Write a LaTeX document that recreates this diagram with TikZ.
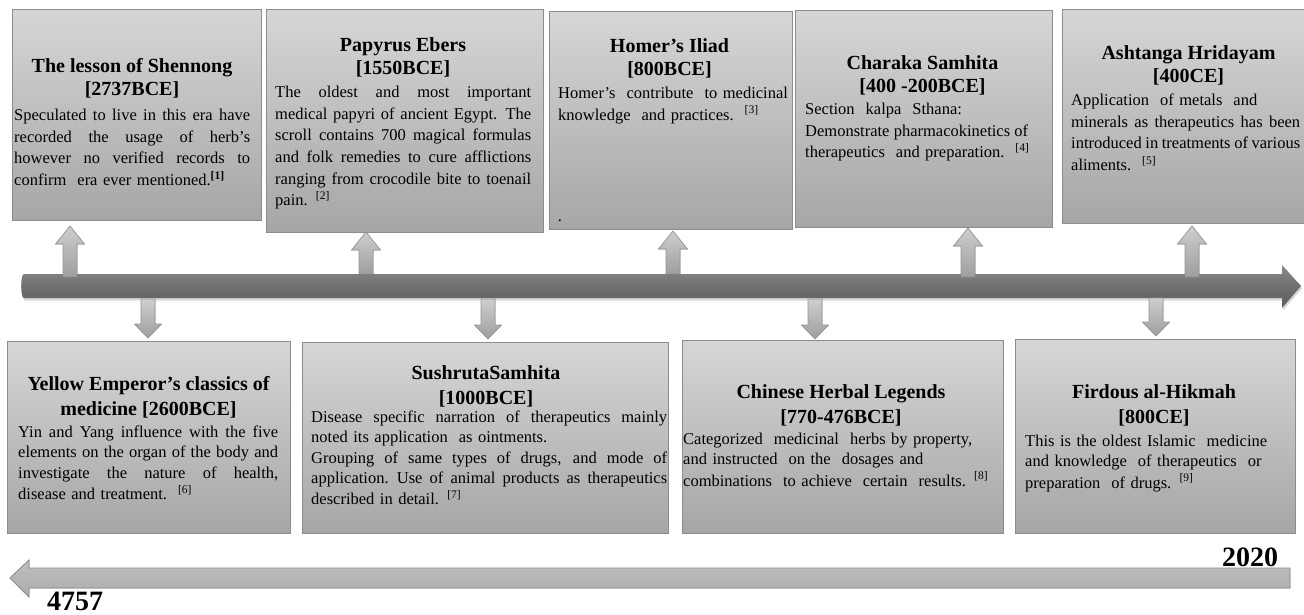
\documentclass[tikz,border=0pt]{standalone}
\usepackage{fontspec}
\setmainfont{Liberation Serif}
\usetikzlibrary{shadows}

\definecolor{boxtop}{RGB}{214,214,214}
\definecolor{boxbot}{RGB}{166,166,166}
\definecolor{boxline}{RGB}{140,140,140}
\definecolor{axistop}{RGB}{138,138,138}
\definecolor{axismid}{RGB}{112,112,112}
\definecolor{axisbot}{RGB}{92,92,92}
\definecolor{tabtop}{RGB}{206,206,206}
\definecolor{tabbot}{RGB}{158,158,158}
\definecolor{tabline}{RGB}{150,150,150}
\definecolor{spantop}{RGB}{190,190,190}
\definecolor{spanbot}{RGB}{172,172,172}

% width to which the justified lines of a description are set
\newlength\descw
\setlength\descw{200pt}
% one justified line of a description (word spaces may stretch or shrink),
% and one line left at its natural width
\newcommand\jline[1]{\makebox[\descw][s]{\spaceskip=0.25em plus 1em minus 0.08em\relax\strut#1}}
\newcommand\nline[1]{\strut#1}
\newcommand\refmark[1]{\textsuperscript{#1}}

% small block arrows joining the axis to the event boxes
\newcommand\evup[3]{% centre x, tip y, foot y
  \filldraw[tab] (#1-7,#3) -- (#1-7,#2+18) -- (#1-14.5,#2+18) -- (#1,#2)
    -- (#1+14.5,#2+18) -- (#1+7,#2+18) -- (#1+7,#3) -- cycle;}
\newcommand\evdown[3]{% centre x, top y, tip y
  \filldraw[tab] (#1-7,#2) -- (#1-7,#3-14) -- (#1-13.5,#3-14) -- (#1,#3)
    -- (#1+13.5,#3-14) -- (#1+7,#3-14) -- (#1+7,#2) -- cycle;}

\begin{document}
\begin{tikzpicture}[x=1pt,y=-1pt,
  evbox/.style={draw=boxline, line width=0.8pt, top color=boxtop, bottom color=boxbot,
    inner sep=0pt, drop shadow={opacity=0.25, shadow xshift=1.2pt, shadow yshift=-1.2pt}},
  ttl/.style={align=center, inner sep=0pt, font=\fontsize{20}{23.5}\selectfont\bfseries},
  ttlb/.style={ttl, font=\fontsize{20}{25}\selectfont\bfseries},
  desc/.style={anchor=north west, align=left, inner sep=0pt, text width=#1pt+40pt,
    execute at begin node={\setlength\descw{#1pt}},
    font=\fontsize{16.5}{21.7}\selectfont},
  descb/.style={desc=#1, font=\fontsize{16.5}{20.3}\selectfont},
  tab/.style={draw=tabline, line width=0.6pt, top color=tabtop, bottom color=tabbot},
  yearlbl/.style={inner sep=0pt, font=\fontsize{28}{30}\selectfont\bfseries}]

\useasboundingbox (0,0) rectangle (1304,614);
\fill[white] (0,0) rectangle (1304,614);

% ---- main time axis ----
\shade[top color=axistop, bottom color=axisbot, middle color=axismid,
  drop shadow={opacity=0.3, shadow xshift=1pt, shadow yshift=-2.5pt}]
  (24,274) -- (1282,274) -- (1282,265) -- (1301,286) -- (1282,308) -- (1282,298)
  -- (24,298) to[out=180,in=180,looseness=0.4] cycle;

% ---- event boxes above the axis ----
\node[evbox, minimum width=249, minimum height=211] (b1) at (136.5,114.5) {};
\node[evbox, minimum width=277, minimum height=223] (b2) at (404.5,120.5) {};
\node[evbox, minimum width=243, minimum height=218] (b3) at (670.5,120) {};
\node[evbox, minimum width=257, minimum height=217] (b4) at (923.5,118.5) {};
\node[evbox, minimum width=242, minimum height=214] (b5) at (1183,116) {};

% ---- event boxes below the axis ----
\node[evbox, minimum width=283, minimum height=192] (b6) at (148.5,437) {};
\node[evbox, minimum width=366, minimum height=191] (b7) at (485,437.5) {};
\node[evbox, minimum width=321, minimum height=193] (b8) at (842.5,436.5) {};
\node[evbox, minimum width=280, minimum height=194] (b9) at (1155,436) {};

% ---- arrows from the axis ----
\evup{70}{226}{277}
\evup{366}{232}{274}
\evup{673}{231}{274}
\evup{968}{228}{277}
\evup{1192}{226}{277}
\evdown{148}{299}{338}
\evdown{488}{299}{339}
\evdown{815}{299}{339}
\evdown{1156}{298}{336}

% ---- titles ----
\node[ttl] (t1) at (132,78.5) {The lesson of Shennong\\{[2737BCE]}};
\node[ttl] (t2) at (403,57.5) {Papyrus Ebers\\{[1550BCE]}};
\node[ttl] (t3) at (669.5,58.5) {Homer's Iliad\\{[800BCE]}};
\node[ttl] (t4) at (922.5,75.5) {Charaka Samhita\\{[400 -200BCE]}};
\node[ttl] (t5) at (1188.5,65.5) {Ashtanga Hridayam\\{[400CE]}};
\node[ttlb] (t6) at (148.5,397.5) {Yellow Emperor’s classics of\\medicine [2600BCE]};
\node[ttlb] (t7) at (486,386.5) {SushrutaSamhita\\{[1000BCE]}};
\node[ttlb] (t8) at (841,405.5) {Chinese Herbal Legends\\{[770-476BCE]}};
\node[ttlb] (t9) at (1154,405.5) {Firdous al-Hikmah\\{[800CE]}};

% ---- descriptions ----
\node[desc=236] (d1) at (14,105) {%
  \jline{Speculated to live in this era have}\\
  \jline{recorded the usage of herb’s}\\
  \jline{however no verified records to}\\
  \nline{confirm\ \ era ever mentioned.\refmark{\textbf{[1]}}}};
\node[desc=256] (d2) at (275,82) {%
  \jline{The oldest and most important}\\
  \jline{medical papyri of ancient Egypt. The}\\
  \jline{scroll contains 700 magical formulas}\\
  \jline{and folk remedies to cure afflictions}\\
  \jline{ranging from crocodile bite to toenail}\\
  \nline{pain. \refmark{[2]}}};
\node[desc=226] (d3) at (558,83) {%
  \nline{Homer’s\ \ contribute\ \ to medicinal}\\
  \nline{knowledge\ \ and practices.\ \ \refmark{[3]}}};
\node[inner sep=0pt, font=\fontsize{16.5}{20}\selectfont] (p3) at (560,221) {.};
\node[desc=223] (d4) at (805,99) {%
  \nline{Section\ \ kalpa\ \ Sthana:}\\
  \jline{Demonstrate pharmacokinetics of}\\
  \nline{therapeutics\ \ and preparation.\ \ \refmark{[4]}}};
\node[desc=229] (d5) at (1071,90) {%
  \nline{Application\ \ of metals\ \ and}\\
  \jline{minerals as therapeutics has been}\\
  \jline{introduced in treatments of various}\\
  \nline{aliments.\ \ \refmark{[5]}}};
\node[descb=260] (d6) at (18,423) {%
  \jline{Yin and Yang influence with the five}\\
  \jline{elements on the organ of the body and}\\
  \jline{investigate the nature of health,}\\
  \nline{disease and treatment.\ \ \refmark{[6]}}};
\node[descb=356] (d7) at (311,408) {%
  \jline{Disease specific narration of therapeutics mainly}\\
  \nline{noted its application\ \ as ointments.}\\
  \jline{Grouping of same types of drugs, and mode of}\\
  \jline{application. Use of animal products as therapeutics}\\
  \nline{described in detail. \refmark{[7]}}};
\node[descb=300] (d8) at (683,430) {%
  \nline{Categorized\ \ medicinal\ \ herbs by property,}\\
  \nline{and instructed\ \ on the\ \ dosages and}\\
  \nline{combinations\ \ to achieve\ \ certain\ \ results. \refmark{[8]}}};
\node[descb=260] (d9) at (1025,432) {%
  \nline{This is the oldest Islamic\ \ medicine}\\
  \nline{and knowledge\ \ of therapeutics\ \ or}\\
  \nline{preparation\ \ of drugs. \refmark{[9]}}};

% ---- span of years, read right to left ----
\filldraw[draw=boxline, line width=0.8pt, top color=spantop, bottom color=spanbot]
  (1290,568) -- (29,568) -- (29,560) -- (10,578) -- (29,597) -- (29,588)
  -- (1290,588) -- cycle;
\node[yearlbl] (y1) at (1250,557) {2020};
\node[yearlbl] (y0) at (75,601) {4757};

\end{tikzpicture}
\end{document}
